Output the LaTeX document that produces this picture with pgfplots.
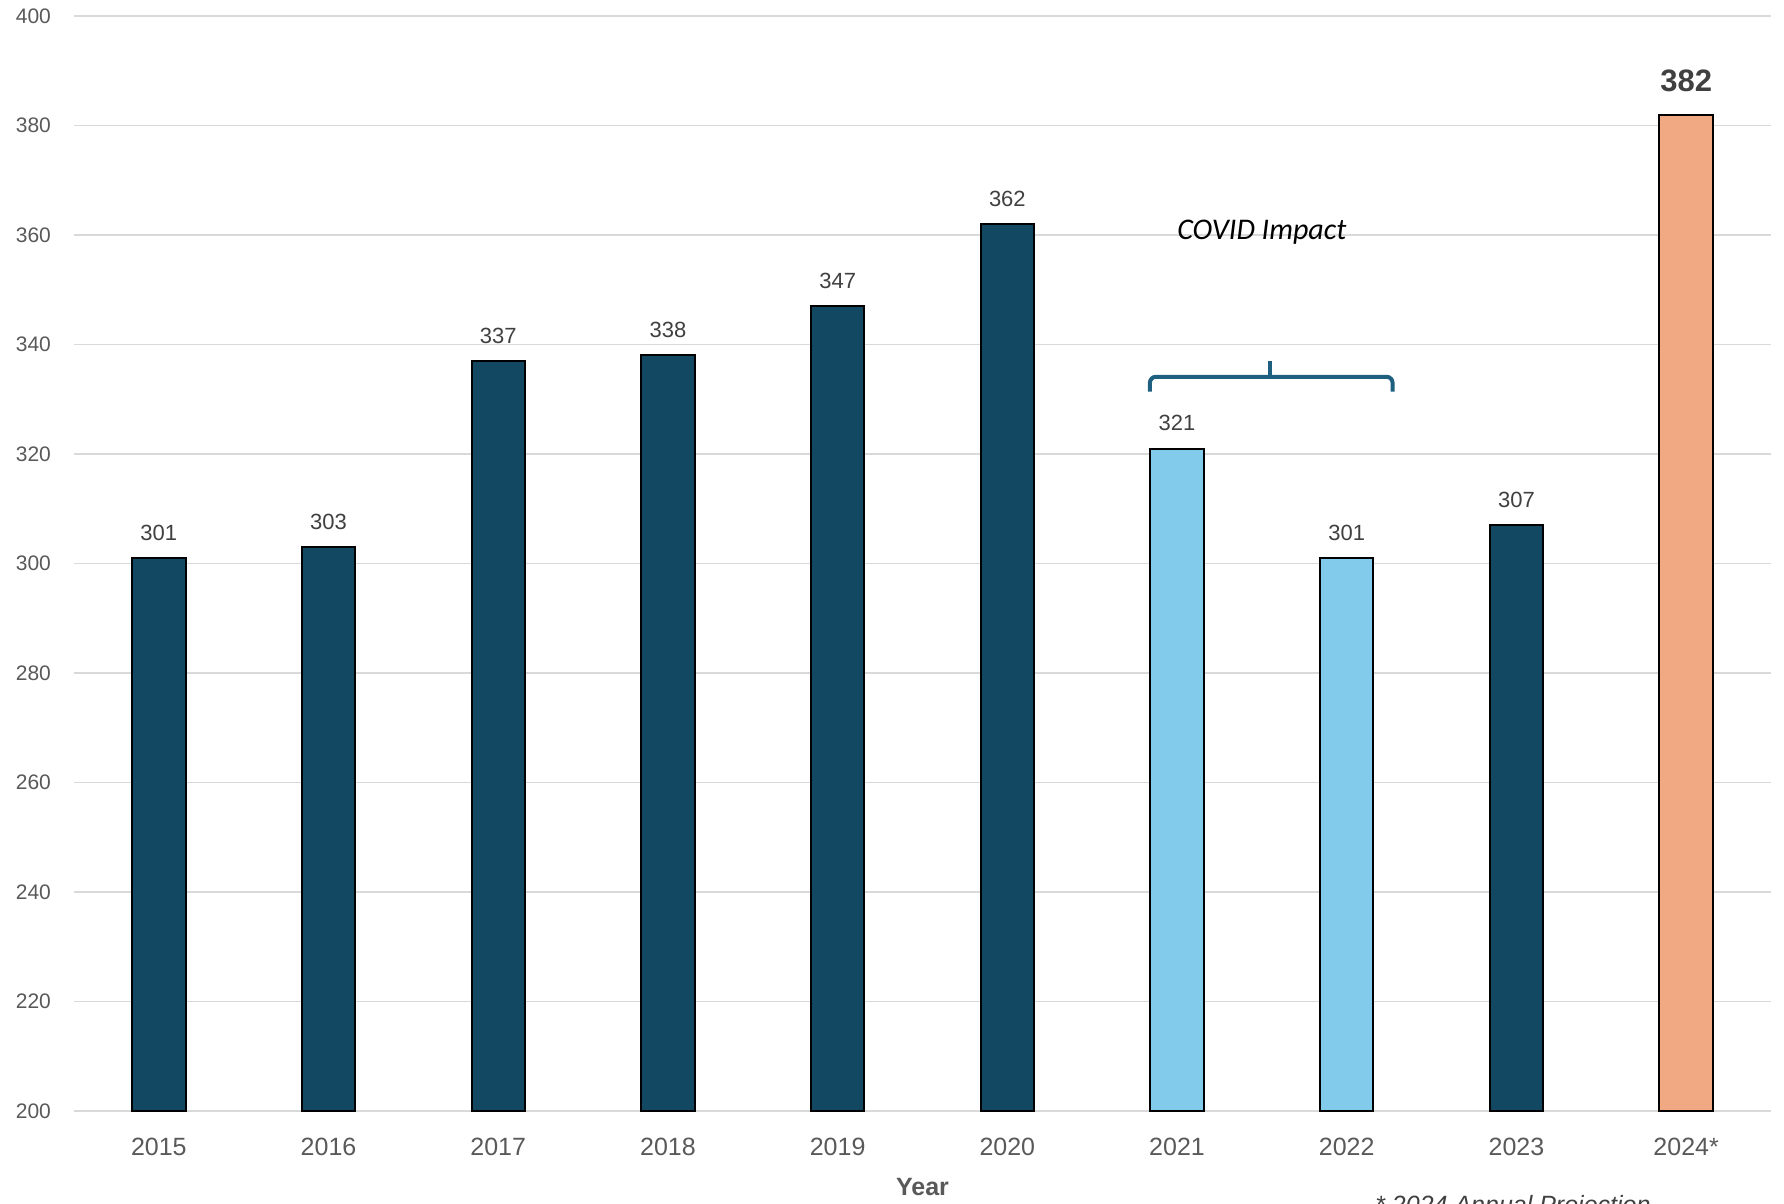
\documentclass[border=0pt]{standalone}
\usepackage{pgfplots}
\pgfplotsset{compat=1.18}
\usepackage{fontspec}
\setmainfont{Liberation Sans}
\newfontfamily\covidfont{Carlito}

\definecolor{darkbar}{HTML}{124862}
\definecolor{lightbar}{HTML}{83CBEB}
\definecolor{orangebar}{HTML}{F1A983}
\definecolor{ticktext}{HTML}{595959}
\definecolor{labeltext}{HTML}{404040}
\definecolor{gridgray}{HTML}{D9D9D9}
\definecolor{bracecol}{HTML}{1F5F80}

\begin{document}
\begin{tikzpicture}
\begin{axis}[
    scale only axis,
    width=848.5pt, height=547.5pt,
    clip=false,
    xmin=-0.5, xmax=9.5,
    ymin=200, ymax=400,
    ytick={200,220,...,400},
    xtick={0,...,9},
    xticklabels={2015,2016,2017,2018,2019,2020,2021,2022,2023,2024*},
    axis line style={draw=none},
    tick style={draw=none},
    ymajorgrids,
    grid style={gridgray, line width=0.9pt},
    ticklabel style={text=ticktext},
    yticklabel style={font=\fontsize{10.5}{12}\selectfont, anchor=east, xshift=-8pt},
    xticklabel style={font=\fontsize{12.5}{14}\selectfont, yshift=-5.7pt},
    /pgf/number format/assume math mode=true,
    xlabel={\textbf{Year}},
    xlabel style={font=\fontsize{12.5}{14}\selectfont, text=ticktext, yshift=-4.5pt},
    ybar, bar width=0.315, bar shift=0pt,
    nodes near coords,
    nodes near coords style={font=\fontsize{11}{13}\selectfont, text=labeltext, anchor=south, yshift=5pt},
    every axis plot/.append style={draw=black, line width=1pt},
]
\addplot[fill=darkbar] coordinates {
    (0,301) (1,303) (2,337) (3,338) (4,347) (5,362) (8,307)
};
\addplot[fill=lightbar] coordinates {
    (6,321) (7,301)
};
\addplot[fill=orangebar, nodes near coords style={font=\fontsize{15.5}{18}\selectfont\bfseries, text=labeltext, anchor=south, yshift=2.5pt}] coordinates {
    (9,382)
};

% brace over the COVID years
\draw[bracecol, line width=2pt, rounded corners=3pt]
    (axis cs:5.84,331.4) -- (axis cs:5.84,334.1) -- (axis cs:7.27,334.1) -- (axis cs:7.27,331.4);
\draw[bracecol, line width=2pt] (axis cs:6.55,334.1) -- (axis cs:6.55,336.9);
\node[font=\covidfont\itshape\fontsize{15}{17}\selectfont, text=black] at (axis cs:6.5,360.6) {COVID Impact};

\node[anchor=north west, inner sep=0pt, yshift=-42pt, font=\itshape\fontsize{12.5}{14}\selectfont, text=labeltext]
    at (rel axis cs:0.7666,0) {* 2024 Annual Projection};
\end{axis}
\pgfresetboundingbox
\path[use as bounding box] (-37pt,-46.5pt) rectangle (855pt,555.5pt);
\end{tikzpicture}
\end{document}
